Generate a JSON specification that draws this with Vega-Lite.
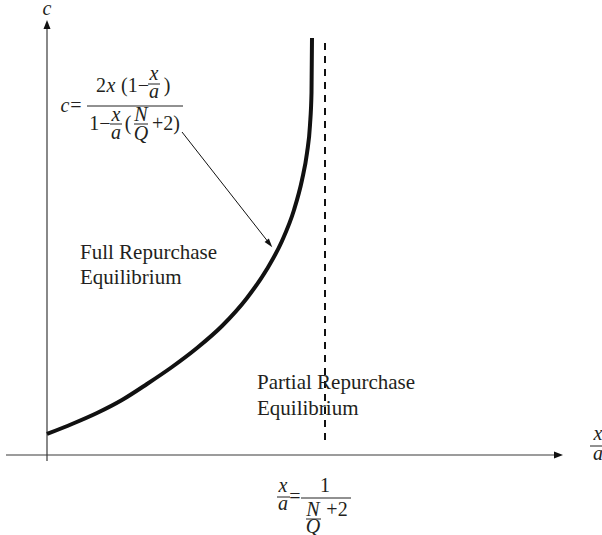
{
  "$schema": "https://vega.github.io/schema/vega-lite/v6.json",
  "width": 602,
  "height": 535,
  "autosize": {"type": "none"},
  "padding": 0,
  "background": "white",
  "config": {"view": {"stroke": null}},
  "datasets": {
    "axes": [
      {"u": -41, "v": 0, "u2": 512, "v2": 0},
      {"u": 0, "v": -6, "u2": 0, "v2": 431}
    ],
    "curve": [
      {"u": 0, "v": 21},
      {"u": 25, "v": 31},
      {"u": 50, "v": 42},
      {"u": 75, "v": 55},
      {"u": 100, "v": 71},
      {"u": 125, "v": 88},
      {"u": 150, "v": 107},
      {"u": 175, "v": 129},
      {"u": 200, "v": 157},
      {"u": 220, "v": 186},
      {"u": 235, "v": 214},
      {"u": 247, "v": 245},
      {"u": 255, "v": 275},
      {"u": 260, "v": 302},
      {"u": 263, "v": 330},
      {"u": 264.5, "v": 362},
      {"u": 265, "v": 417}
    ],
    "asymptote": [{"u": 278, "v": 15, "u2": 278, "v2": 418}],
    "pointer": [{"u": 135, "v": 323, "u2": 222, "v2": 212}],
    "bars": [
      {"u": 40, "u2": 136, "v": 349},
      {"u": 101, "u2": 113, "v": 371},
      {"u": 63, "u2": 75, "v": 331},
      {"u": 87, "u2": 101, "v": 331},
      {"u": 543, "u2": 559, "v": 9},
      {"u": 230, "u2": 243, "v": -42},
      {"u": 254, "u2": 304, "v": -43},
      {"u": 259, "u2": 274, "v": -64}
    ],
    "symbols": [
      {"u": 18, "v": 343, "t": "c"},
      {"u": 64, "v": 363, "t": "x"},
      {"u": 107, "v": 375, "t": "x"},
      {"u": 107, "v": 357, "t": "a"},
      {"u": 69, "v": 334, "t": "x"},
      {"u": 69, "v": 316, "t": "a"},
      {"u": 94, "v": 334, "t": "N"},
      {"u": 94, "v": 315, "t": "Q"},
      {"u": 0, "v": 440, "t": "c"},
      {"u": 551, "v": 15, "t": "x"},
      {"u": 551, "v": -5, "t": "a"},
      {"u": 236, "v": -37, "t": "x"},
      {"u": 236, "v": -55, "t": "a"},
      {"u": 266, "v": -61, "t": "N"},
      {"u": 266, "v": -78, "t": "Q"}
    ],
    "operators": [
      {"u": 29, "v": 343, "t": "="},
      {"u": 54, "v": 363, "t": "2"},
      {"u": 88, "v": 363, "t": "(1−"},
      {"u": 120, "v": 363, "t": ")"},
      {"u": 53, "v": 325, "t": "1−"},
      {"u": 81, "v": 325, "t": "("},
      {"u": 119, "v": 325, "t": "+2)"},
      {"u": 248, "v": -48, "t": "="},
      {"u": 278, "v": -37, "t": "1"},
      {"u": 290, "v": -61, "t": "+2"}
    ],
    "regions": [
      {"u": 33, "v": 196, "t": "Full Repurchase"},
      {"u": 33, "v": 171, "t": "Equilibrium"},
      {"u": 210, "v": 66, "t": "Partial Repurchase"},
      {"u": 210, "v": 40, "t": "Equilibrium"}
    ]
  },
  "encoding": {
    "x": {"field": "u", "type": "quantitative", "scale": {"domain": [-47, 555], "nice": false, "zero": false}, "axis": null},
    "y": {"field": "v", "type": "quantitative", "scale": {"domain": [-80, 455], "nice": false, "zero": false}, "axis": null}
  },
  "layer": [
    {
      "data": {"name": "axes"},
      "mark": {"type": "rule", "color": "#3a3a3a", "strokeWidth": 1.2},
      "encoding": {"x2": {"field": "u2"}, "y2": {"field": "v2"}}
    },
    {
      "data": {"values": [{"u": 0, "v": 430.5}]},
      "mark": {"type": "point", "shape": "M0,-1L0.78,1L-0.78,1Z", "size": 81, "filled": true, "color": "#111111", "opacity": 1}
    },
    {
      "data": {"values": [{"u": 511.5, "v": 0}]},
      "mark": {"type": "point", "shape": "M1,0L-1,-0.78L-1,0.78Z", "size": 81, "filled": true, "color": "#111111", "opacity": 1}
    },
    {
      "data": {"name": "asymptote"},
      "mark": {"type": "rule", "color": "#111111", "strokeWidth": 2, "strokeDash": [7, 6]},
      "encoding": {"x2": {"field": "u2"}, "y2": {"field": "v2"}}
    },
    {
      "data": {"name": "curve"},
      "mark": {"type": "line", "color": "#111111", "strokeWidth": 4, "interpolate": "monotone", "strokeCap": "butt"},
      "encoding": {"order": {"field": "v", "type": "quantitative"}}
    },
    {
      "data": {"name": "pointer"},
      "mark": {"type": "rule", "color": "#111111", "strokeWidth": 1},
      "encoding": {"x2": {"field": "u2"}, "y2": {"field": "v2"}}
    },
    {
      "data": {"values": [{"u": 222.5, "v": 211.2}]},
      "mark": {"type": "point", "shape": "M0,-1L0.6,1L-0.6,1Z", "size": 81, "filled": true, "color": "#111111", "opacity": 1, "angle": 142}
    },
    {
      "data": {"name": "bars"},
      "mark": {"type": "rule", "color": "#222222", "strokeWidth": 1},
      "encoding": {"x2": {"field": "u2"}}
    },
    {
      "data": {"name": "symbols"},
      "mark": {"type": "text", "font": "Liberation Serif", "fontStyle": "italic", "fontSize": 20, "align": "center", "baseline": "alphabetic", "color": "#231f20"},
      "encoding": {"text": {"field": "t"}}
    },
    {
      "data": {"name": "operators"},
      "mark": {"type": "text", "font": "Liberation Serif", "fontSize": 20, "align": "center", "baseline": "alphabetic", "color": "#231f20"},
      "encoding": {"text": {"field": "t"}}
    },
    {
      "data": {"name": "regions"},
      "mark": {"type": "text", "font": "Liberation Serif", "fontSize": 21, "align": "left", "baseline": "alphabetic", "color": "#231f20"},
      "encoding": {"text": {"field": "t"}}
    }
  ]
}
